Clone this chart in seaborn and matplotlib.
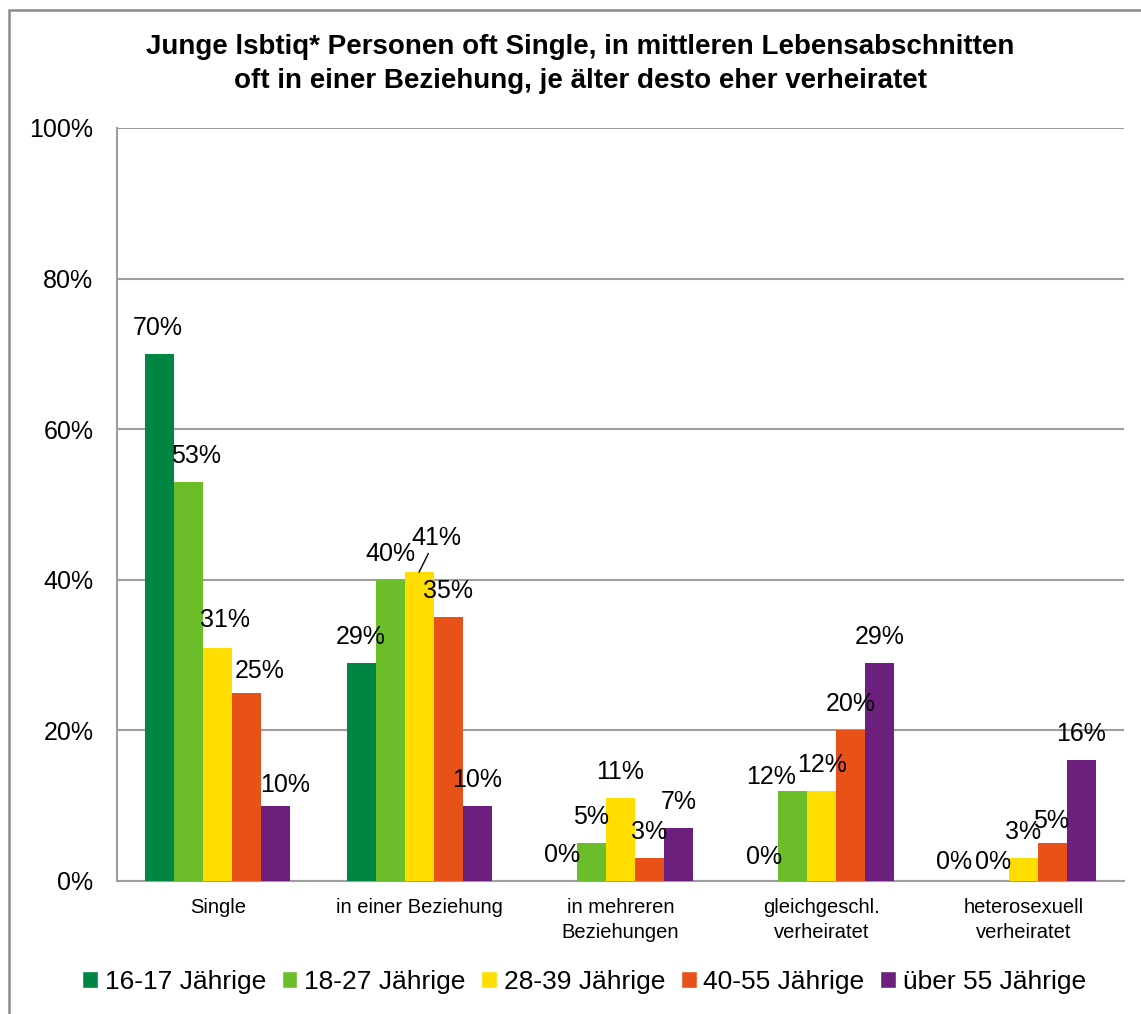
import pandas as pd
import matplotlib
matplotlib.use("Agg")
import matplotlib.pyplot as plt
from matplotlib.patches import Rectangle
import seaborn as sns

# ---- data ----
kategorien = ["Single", "in einer Beziehung", "in mehreren\nBeziehungen",
              "gleichgeschl.\nverheiratet", "heterosexuell\nverheiratet"]
gruppen = ["16-17 Jährige", "18-27 Jährige", "28-39 Jährige", "40-55 Jährige", "über 55 Jährige"]
werte_16_17 = [70, 29, 0, 0, 0]
werte_18_27 = [53, 40, 5, 12, 0]
werte_28_39 = [31, 41, 11, 12, 3]
werte_40_55 = [25, 35, 3, 20, 5]
werte_ueber_55 = [10, 10, 7, 29, 16]
farben = ["#008542", "#6CBD2A", "#FFDD00", "#E85117", "#6C1F7D"]
titel = ("Junge lsbtiq* Personen oft Single, in mittleren Lebensabschnitten\n"
         "oft in einer Beziehung, je älter desto eher verheiratet")

serien = [werte_16_17, werte_18_27, werte_28_39, werte_40_55, werte_ueber_55]
df = pd.DataFrame([
    {"kategorie": k, "gruppe": g, "anteil": v}
    for g, werte in zip(gruppen, serien)
    for k, v in zip(kategorien, werte)
])

sns.set_style("white")
plt.rcParams["font.family"] = ["Liberation Sans", "DejaVu Sans"]
plt.rcParams["text.color"] = "black"
plt.rcParams["xtick.color"] = "black"
plt.rcParams["ytick.color"] = "black"

GRAU = "#9E9E9E"
fig = plt.figure(figsize=(11.41, 10.14), dpi=100)
ax = fig.add_axes([0.1025, 0.1312, 0.8825, 0.7426])

sns.barplot(data=df, x="kategorie", y="anteil", hue="gruppe", order=kategorien,
            hue_order=gruppen, palette=farben, saturation=1, width=0.72,
            linewidth=0, ax=ax, legend=False, zorder=3)

ax.set_ylim(0, 100)
ax.set_yticks(range(0, 101, 20))
ax.set_yticklabels([f"{t}%" for t in range(0, 101, 20)])
ax.set_xlabel("")
ax.set_ylabel("")
ax.yaxis.grid(True, color=GRAU, linewidth=1.5, zorder=0)
ax.xaxis.grid(False)
sns.despine(ax=ax)
for s in ["left", "bottom"]:
    ax.spines[s].set_color(GRAU)
    ax.spines[s].set_linewidth(1.5)
ax.tick_params(axis="y", length=0, pad=17, labelsize=18)
ax.tick_params(axis="x", length=0, pad=12, labelsize=14.5)
for lbl in ax.get_xticklabels():
    lbl.set_linespacing(1.4)

# data labels: default 26 px above bar top, a few shifted like in the original
px = 0.72
verschiebung = {(0, 0): (-2, 26), (1, 0): (7, 26), (2, 0): (7, 28), (3, 0): (13, 22),
                (4, 0): (9, 21), (1, 3): (-22, 14), (0, 4): (-11, 19), (1, 4): (-1, 19),
                (3, 4): (-1, 22), (0, 3): (0, 24)}
for i, cont in enumerate(ax.containers):
    for j, bar in enumerate(cont):
        x = bar.get_x() + bar.get_width() / 2
        h = bar.get_height()
        txt = f"{h:.0f}%"
        if (i, j) == (2, 1):
            ax.annotate(txt, (x, h), xytext=(17 * px, 34 * px), textcoords="offset points",
                        ha="center", va="center", fontsize=18, zorder=5,
                        arrowprops=dict(arrowstyle="-", color="black", lw=1,
                                        shrinkA=0, shrinkB=0))
            continue
        dx, dy = verschiebung.get((i, j), (0, 26))
        ax.annotate(txt, (x, h), xytext=(dx * px, dy * px), textcoords="offset points",
                    ha="center", va="center", fontsize=18, zorder=5)

fig.text(580 / 1141, 1 - 64 / 1014, titel, ha="center", va="center",
         fontsize=20, fontweight="bold", linespacing=1.35)

handles = [Rectangle((0, 0), 1, 1, facecolor=c) for c in farben]
fig.legend(handles, gruppen, loc="center", bbox_to_anchor=(584 / 1141, 1 - 982 / 1014),
           ncol=5, frameon=False, fontsize=19, handlelength=0.6, handleheight=0.6,
           handletextpad=0.25, columnspacing=0.6, borderaxespad=0)

# outer chart frame (cut off at the right and bottom edge like the screenshot)
fig.patches.append(Rectangle((9 / 1141, -0.05), 1.2, 1 - 10 / 1014 + 0.05,
                             transform=fig.transFigure, fill=False,
                             edgecolor="#8C8C8C", linewidth=1.8))

fig.savefig("out.png", dpi=100)
